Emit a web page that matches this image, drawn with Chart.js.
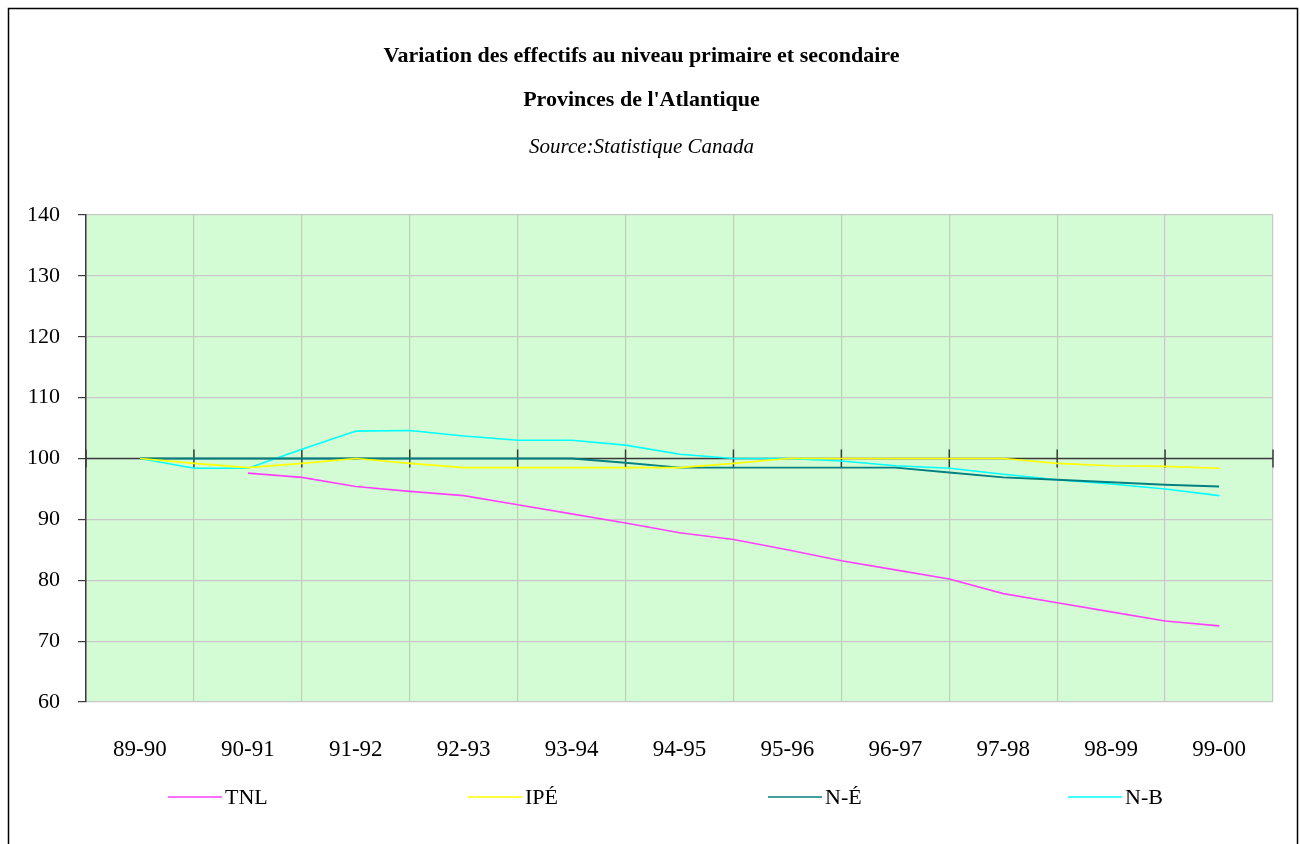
<!DOCTYPE html>
<html>
<head>
<meta charset="utf-8">
<script src="https://cdn.jsdelivr.net/npm/chart.js@4.4.1/dist/chart.umd.min.js"></script>
<style>
    html, body { margin: 0; padding: 0; background: #fff; }
    #wrap { position: relative; width: 1300px; height: 844px; }
</style>
</head>
<body>
<div id="wrap"><canvas id="chart"></canvas></div>
<script>
// school years on the x axis
const categories = ['89-90', '90-91', '91-92', '92-93', '93-94', '94-95', '95-96', '96-97', '97-98', '98-99', '99-00'];
// the lines bend at mid-year as well, so values are read at each half step
const steps = [0, 0.5, 1, 1.5, 2, 2.5, 3, 3.5, 4, 4.5, 5, 5.5, 6, 6.5, 7, 7.5, 8, 8.5, 9, 9.5, 10];

const tnl = [null, null, 97.6, 96.9, 95.4, 94.6, 93.9, 92.4, 90.9, 89.4, 87.8, 86.7, 85.0, 83.2, 81.7, 80.2, 77.8, 76.3, 74.8, 73.3, 72.5];
const ipe = [100, 99.2, 98.5, 99.2, 100, 99.2, 98.5, 98.5, 98.5, 98.5, 98.5, 99.2, 100, 100, 100, 100, 100, 99.2, 98.8, 98.7, 98.4];
const ne = [100, 100, 100, 100, 100, 100, 100, 100, 100, 99.3, 98.5, 98.5, 98.5, 98.5, 98.5, 97.7, 96.9, 96.5, 96.1, 95.7, 95.4];
const nb = [100, 98.4, 98.4, 101.5, 104.5, 104.6, 103.7, 103.0, 103.0, 102.2, 100.7, 100, 100, 99.6, 98.8, 98.4, 97.4, 96.5, 95.8, 95.0, 93.9];

const yTicks = [60, 70, 80, 90, 100, 110, 120, 130, 140];

const toPoints = (values) => steps.map((s, i) => ({ x: s, y: values[i] }));

const serif = '"Liberation Serif", "Times New Roman", serif';

// green plot area + outer frame
const frame = {
    id: 'frame',
    beforeDraw(chart) {
        const { ctx, chartArea: a } = chart;
        ctx.save();
        ctx.fillStyle = '#d4fcd4';
        ctx.fillRect(a.left, a.top, a.right - a.left, a.bottom - a.top);
        ctx.strokeStyle = '#000';
        ctx.lineWidth = 1.5;
        ctx.strokeRect(8.5, 8.5, chart.width - 11, chart.height + 20);
        ctx.restore();
    }
};

// category axis drawn where the y scale crosses 100
const crossAxis = {
    id: 'crossAxis',
    beforeDatasetsDraw(chart) {
        const { ctx, chartArea: a, scales: { x, y } } = chart;
        const py = y.getPixelForValue(100);
        ctx.save();
        ctx.strokeStyle = '#3a3a3a';
        ctx.lineWidth = 1.5;
        ctx.beginPath();
        ctx.moveTo(a.left, py);
        ctx.lineTo(a.right, py);
        for (let i = 0; i <= categories.length; i++) {
            const px = x.getPixelForValue(i - 0.5);
            ctx.moveTo(px, py - 9);
            ctx.lineTo(px, py + 9);
        }
        ctx.stroke();
        ctx.restore();
    }
};

// Excel style legend, items spread across the width
const spreadLegend = {
    id: 'spreadLegend',
    afterDraw(chart) {
        const { ctx } = chart;
        const y = 797;
        ctx.save();
        ctx.font = '22px ' + serif;
        ctx.textBaseline = 'middle';
        chart.data.datasets.forEach((ds, i) => {
            const x0 = 168 + i * 300;
            ctx.strokeStyle = ds.borderColor;
            ctx.lineWidth = 1.5;
            ctx.beginPath();
            ctx.moveTo(x0, y);
            ctx.lineTo(x0 + 54, y);
            ctx.stroke();
            ctx.fillStyle = '#000';
            ctx.fillText(ds.label, x0 + 57, y + 1);
        });
        ctx.restore();
    }
};

const line = (label, values, color, width) => ({
    label: label,
    data: toPoints(values),
    borderColor: color,
    backgroundColor: color,
    borderWidth: width,
    pointRadius: 0,
    tension: 0,
    spanGaps: false
});

new Chart(document.getElementById('chart'), {
    type: 'line',
    data: {
        datasets: [
            line('TNL', tnl, '#ff40ff', 1.6),
            line('IPÉ', ipe, '#ffff00', 1.6),
            line('N-É', ne, '#008080', 1.9),
            line('N-B', nb, '#00ffff', 1.6)
        ]
    },
    options: {
        responsive: true,
        maintainAspectRatio: false,
        animation: false,
        layout: { padding: { left: 10, right: 27, top: 8, bottom: 0 } },
        plugins: {
            legend: { display: false },
            tooltip: { enabled: false },
            title: {
                display: true,
                text: ['Variation des effectifs au niveau primaire et secondaire', "Provinces de l'Atlantique"],
                color: '#000',
                font: { family: serif, size: 22, weight: 'bold', lineHeight: 2.0 },
                padding: { top: 26, bottom: 2 }
            },
            subtitle: {
                display: true,
                text: 'Source:Statistique Canada',
                color: '#000',
                font: { family: serif, size: 21, style: 'italic', lineHeight: 2.0 },
                padding: { top: 2, bottom: 47 }
            }
        },
        scales: {
            x: {
                type: 'linear',
                min: -0.5,
                max: categories.length - 0.5,
                afterFit: (s) => { s.height = 142; },
                afterBuildTicks: (s) => { s.ticks = categories.map((c, i) => ({ value: i })); },
                ticks: {
                    callback: (v) => categories[v],
                    color: '#000',
                    font: { family: serif, size: 23 },
                    padding: 34,
                    maxRotation: 0,
                    autoSkip: false
                },
                grid: { offset: true, color: '#c8c8c8', lineWidth: 1.2, drawTicks: false },
                border: { display: false }
            },
            y: {
                min: 60,
                max: 140,
                afterFit: (s) => { s.width = 76; },
                afterBuildTicks: (s) => { s.ticks = yTicks.map(v => ({ value: v })); },
                ticks: {
                    color: '#000',
                    font: { family: serif, size: 22 },
                    padding: 18
                },
                grid: { color: '#c8c8c8', lineWidth: 1.2, tickColor: '#3a3a3a', tickLength: 8 },
                border: { color: '#3a3a3a', width: 1.5 }
            }
        }
    },
    plugins: [frame, crossAxis, spreadLegend]
});
</script>
</body>
</html>
